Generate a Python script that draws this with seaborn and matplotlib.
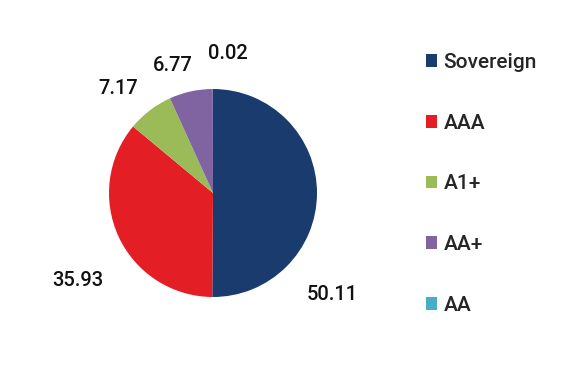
import matplotlib
matplotlib.use("Agg")
import matplotlib.pyplot as plt
import seaborn as sns
from matplotlib.patches import Patch

ratings = ["Sovereign", "AAA", "A1+", "AA+", "AA"]
shares = [50.11, 35.93, 7.17, 6.77, 0.02]
value_labels = ["50.11", "35.93", "7.17", "6.77", "0.02"]
colors = ["#1a3b6e", "#e31e24", "#9bbb59", "#8064a2", "#4bacc6"]

# label spots around the pie (radius = 1)
label_pos = [(1.15, -0.98), (-1.30, -0.84), (-0.91, 1.0), (-0.39, 1.23), (0.14, 1.34)]

sns.set_theme(style="white")
plt.rcParams["font.family"] = ["Roboto", "DejaVu Sans"]

fig = plt.figure(figsize=(5.85, 3.76), dpi=100)
# pie centre at (213, 193) px, radius 104 px
R = 104
W, H = 585, 376
cx, cy = 213, 193
span = 2.0  # axes covers -2..2
ax = fig.add_axes([(cx - span * R) / W, (H - cy - span * R) / H, 2 * span * R / W, 2 * span * R / H])
ax.pie(shares, colors=colors, startangle=90, counterclock=False, radius=1,
       wedgeprops=dict(linewidth=0))
ax.set_xlim(-span, span)
ax.set_ylim(-span, span)
ax.set_aspect("equal")
ax.axis("off")

for txt, (x, y) in zip(value_labels, label_pos):
    ax.text(x, y, txt, ha="center", va="center", fontsize=14.5, fontweight="medium",
            color="#111111")

handles = [Patch(facecolor=c, edgecolor="none") for c in colors]
fig.legend(handles, ratings, loc="upper left", bbox_to_anchor=(426 / W, 1 - 53 / H),
           frameon=False, handlelength=0.55, handleheight=0.55,
           handletextpad=0.3, labelspacing=2.0, borderaxespad=0, borderpad=0,
           prop=dict(family=["Roboto", "DejaVu Sans"], size=15, weight="medium"))

fig.savefig("out.png", dpi=100, facecolor="white")
